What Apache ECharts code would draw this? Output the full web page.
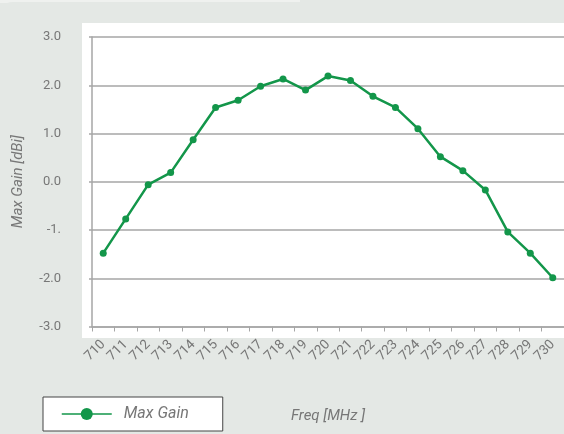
<!DOCTYPE html>
<html>
<head>
<meta charset="utf-8">
<script src="https://cdn.jsdelivr.net/npm/echarts@6/dist/echarts.min.js"></script>
<style>
html, body { margin: 0; padding: 0; background: #e4e8e5; }
#main { width: 564px; height: 434px; }
</style>
</head>
<body>
<div id="main"></div>
<script>
// frequencies (MHz) and measured gain (dBi)
var freqs = ['710','711','712','713','714','715','716','717','718','719','720',
    '721','722','723','724','725','726','727','728','729','730'];
var gain = [-1.48, -0.77, -0.06, 0.19, 0.87, 1.54, 1.69, 1.98, 2.13, 1.90, 2.19,
    2.10, 1.77, 1.54, 1.10, 0.52, 0.23, -0.17, -1.04, -1.48, -1.99];
var yTicks = [-3, -2, -1, 0, 1, 2, 3];
var yTickLabels = ['-3.0', '-2.0', '-1.', '0.0', '1.0', '2.0', '3.0'];

var green = '#13964a';
var grey = '#a6a6a6';
var textGrey = '#777';

var chart = echarts.init(document.getElementById('main'));
var option = {
    backgroundColor: '#e4e8e5',
    animation: false,
    graphic: [
        { type: 'rect', shape: { x: 0, y: 0, width: 300, height: 3 }, style: { fill: '#eff1ef' }, z: -10 },
        { type: 'rect', shape: { x: 0, y: 2, width: 564, height: 432, r: [12, 0, 0, 0] }, style: { fill: '#e4e8e5' }, z: -9 },
        { type: 'rect', shape: { x: 82, y: 23, width: 482, height: 315 }, style: { fill: '#ffffff' }, z: -8 }
    ],
    grid: { left: 92, top: 37, width: 476, height: 289.5 },
    legend: {
        left: 43, top: 397,
        backgroundColor: '#fff',
        borderColor: '#444', borderWidth: 1,
        padding: [9, 34, 9, 18],
        itemWidth: 50, itemHeight: 15,
        lineStyle: { width: 1.5 },
        textStyle: { color: textGrey, fontStyle: 'italic', fontSize: 16, fontFamily: 'Roboto', padding: [0, 0, 0, 7] },
        data: ['Max Gain']
    },
    xAxis: {
        type: 'category',
        data: freqs,
        boundaryGap: true,
        name: 'Freq [MHz ]',
        nameLocation: 'middle',
        nameGap: 82,
        nameTextStyle: { color: textGrey, fontStyle: 'italic', fontSize: 15, fontFamily: 'Roboto' },
        axisLine: { onZero: false, lineStyle: { color: grey, width: 1.5 } },
        axisTick: { show: true, length: 5, interval: 0, lineStyle: { color: grey } },
        axisLabel: {
            rotate: 45, margin: 16, interval: 0, hideOverlap: false,
            color: textGrey, fontSize: 13.5, fontFamily: 'Roboto'
        }
    },
    yAxis: {
        type: 'value',
        min: -3, max: 3, interval: 1,
        name: 'Max Gain [dBi]',
        nameLocation: 'middle',
        nameGap: 66,
        nameTextStyle: { color: textGrey, fontStyle: 'italic', fontSize: 15, fontFamily: 'Roboto' },
        axisLine: { show: true, lineStyle: { color: grey, width: 1.5 } },
        axisTick: { show: true, length: 3, lineStyle: { color: grey, width: 1.5 } },
        splitLine: { lineStyle: { color: grey, width: 1.5 } },
        axisLabel: {
            margin: 31,
            color: textGrey, fontSize: 13, fontFamily: 'Roboto',
            formatter: function (v) {
                var i = yTicks.indexOf(Math.round(v));
                return i >= 0 ? yTickLabels[i] : '';
            }
        }
    },
    series: [{
        name: 'Max Gain',
        type: 'line',
        data: gain,
        color: green,
        symbol: 'circle',
        symbolSize: 7,
        lineStyle: { width: 2.5, color: green },
        itemStyle: { color: green }
    }]
};
chart.setOption(option);
</script>
</body>
</html>
